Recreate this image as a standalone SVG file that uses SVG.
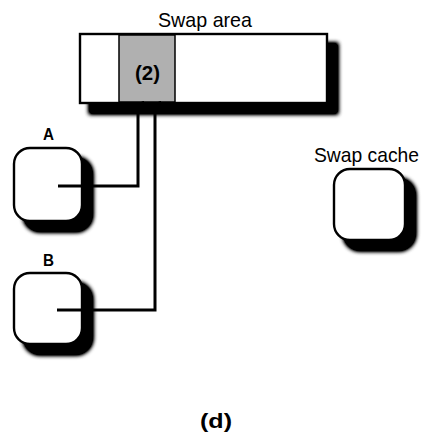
<svg xmlns="http://www.w3.org/2000/svg" width="427" height="437" viewBox="0 0 427 437">
<defs>
<style>
.lbl{font-family:"Liberation Sans",Arial,sans-serif;fill:#000}
.box{fill:#fff;stroke:#000;stroke-width:2.4}
.conn{fill:none;stroke:#000;stroke-width:3}
</style>
<filter id="sh" x="-20%" y="-20%" width="150%" height="150%">
<feGaussianBlur in="SourceAlpha" stdDeviation="2" result="b"/>
<feOffset in="b" dx="10" dy="10" result="o"/>
<feComponentTransfer in="o" result="d"><feFuncA type="linear" slope="1.8"/></feComponentTransfer>
<feMerge><feMergeNode in="d"/><feMergeNode in="SourceGraphic"/></feMerge>
</filter>
<marker id="ah" markerWidth="7" markerHeight="7" refX="3.5" refY="1" orient="auto" markerUnits="userSpaceOnUse" viewBox="0 0 7 7">
<path d="M0,7 L3.5,0 L7,7 Z" fill="#000"/>
</marker>
</defs>
<rect width="427" height="437" fill="#fff"/>
<g id="swap-area">
<text class="lbl" x="158" y="27" font-size="21" textLength="94" lengthAdjust="spacingAndGlyphs">Swap area</text>
<rect class="box" x="80" y="34" width="247" height="69" filter="url(#sh)"/>
<rect x="119" y="35" width="56" height="67" fill="#b0b0b0" stroke="#000" stroke-width="1.5"/>
<text class="lbl" x="135" y="80" font-size="20" font-weight="bold" textLength="25" lengthAdjust="spacingAndGlyphs">(2)</text>
</g>
<g id="node-a">
<text class="lbl" x="43" y="140" font-size="17" font-weight="bold" textLength="11" lengthAdjust="spacingAndGlyphs">A</text>
<rect class="box" x="14" y="148" width="68" height="73" rx="16" filter="url(#sh)"/>
</g>
<g id="node-b">
<text class="lbl" x="43" y="266" font-size="17" font-weight="bold" textLength="11" lengthAdjust="spacingAndGlyphs">B</text>
<rect class="box" x="14" y="273" width="68" height="71" rx="16" filter="url(#sh)"/>
</g>
<g id="swap-cache">
<text class="lbl" x="314" y="162" font-size="21" textLength="105" lengthAdjust="spacingAndGlyphs">Swap cache</text>
<rect class="box" x="334" y="169" width="71" height="71" rx="16" filter="url(#sh)"/>
</g>
<g id="connectors">
<path class="conn" d="M58,186 H138 V104" marker-end="url(#ah)"/>
<path class="conn" d="M57,310 H155 V104" marker-end="url(#ah)"/>
</g>
<text class="lbl" x="200" y="428" font-size="20" font-weight="bold" textLength="32" lengthAdjust="spacingAndGlyphs">(d)</text>
</svg>
